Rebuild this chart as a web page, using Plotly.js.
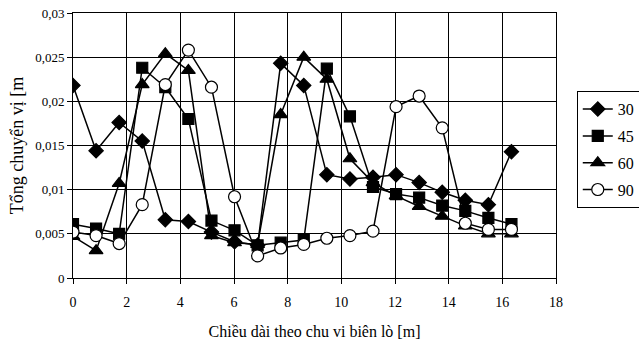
<!DOCTYPE html>
<html>
<head>
<meta charset="utf-8">
<script src="https://cdn.plot.ly/plotly-3.0.1.min.js"></script>
<style>html,body{margin:0;padding:0;background:#fff;}#chart{width:639px;height:342px;}</style>
</head>
<body>
<div id="chart"></div>
<script>
const xPos = [0,0.86,1.72,2.58,3.44,4.3,5.16,6.02,6.88,7.74,8.6,9.46,10.32,11.18,12.04,12.9,13.76,14.62,15.48,16.34];
const s30 = [0.0218,0.0144,0.0176,0.0155,0.0066,0.0064,0.0052,0.0041,0.0037,0.0243,0.0218,0.0117,0.0112,0.0114,0.0117,0.0108,0.0097,0.0088,0.0083,0.0143];
const s45 = [0.0061,0.0056,0.0050,0.0238,0.0216,0.0180,0.0065,0.0054,0.0037,0.0040,0.0043,0.0237,0.0183,0.0103,0.0095,0.0091,0.0082,0.0076,0.0068,0.0061];
const s60 = [0.0047,0.0031,0.0107,0.0219,0.0254,0.0235,0.0048,0.0040,0.0038,0.0185,0.0250,0.0225,0.0135,0.0108,0.0093,0.0081,0.0070,0.0059,0.0050,0.0050];
const s90 = [0.0052,0.0048,0.0039,0.0083,0.0219,0.0258,0.0216,0.0092,0.0025,0.0034,0.0038,0.0045,0.0048,0.0053,0.0194,0.0206,0.0170,0.0062,0.0055,0.0055];
const seriesNames = ['30','45','60','90'];
const xTitle = 'Chiều dài theo chu vi biên lò [m]';
const yTitle = 'Tổng chuyển vị [m';

const font = 'Liberation Serif, serif';
const symbols = ['diamond','square','triangle-up','circle'];
const sizes = [11,11,12,12];
const data = [s30,s45,s60,s90].map((ys,i)=>({
  x: xPos, y: ys, name: seriesNames[i], type:'scatter', mode:'lines+markers',
  legendgroup: 'g'+i,
  line:{color:'#000', width:1.5},
  marker:{symbol:symbols[i], size:sizes[i], color: i===3 ? '#fff' : '#000', line:{color:'#000', width:1.2}}
}));

const layout = {
  width:639, height:342,
  margin:{l:73, r:83, t:13, b:64, autoexpand:false},
  paper_bgcolor:'#fff', plot_bgcolor:'#fff',
  separators:', ',
  font:{family:font, color:'#000', size:14},
  showlegend:true,
  legend:{x:1.043, xanchor:'left', y:0.705, yanchor:'top', bordercolor:'#000', borderwidth:1,
          font:{family:font, size:16, color:'#000'}, tracegroupgap:3, bgcolor:'#fff'},
  xaxis:{range:[0,18], dtick:2, tick0:0, showgrid:true, gridcolor:'#000', gridwidth:1,
         showline:true, linecolor:'#000', linewidth:1, mirror:true, zeroline:false,
         ticks:'outside', ticklen:5, tickcolor:'#000', ticklabelstandoff:6,
         tickfont:{family:font, size:14},
         title:{text:xTitle, font:{family:font, size:16}, standoff:17}},
  yaxis:{range:[0,0.03], dtick:0.005, tick0:0, showgrid:true, gridcolor:'#000', gridwidth:1,
         showline:true, linecolor:'#000', linewidth:1, mirror:true, zeroline:false,
         ticks:'outside', ticklen:5, tickcolor:'#000',
         tickfont:{family:font, size:13},
         title:{text:yTitle, font:{family:font, size:18}, standoff:6}}
};
Plotly.newPlot('chart', data, layout, {displayModeBar:false, staticPlot:true});
</script>
</body>
</html>
